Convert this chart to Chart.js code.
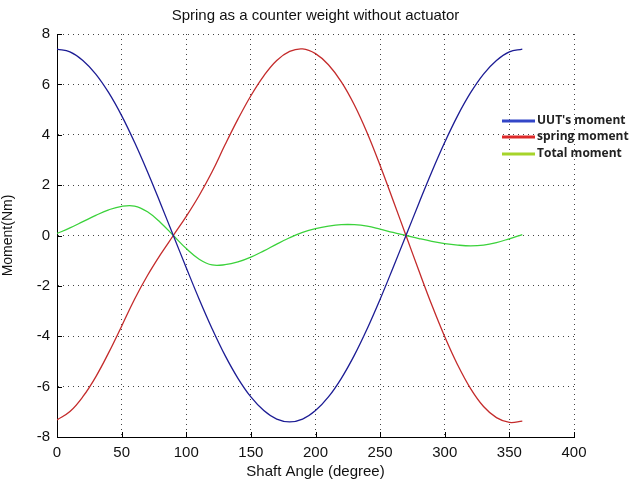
<!DOCTYPE html>
<html>
<head>
<meta charset="utf-8">
<script src="https://cdn.jsdelivr.net/npm/chart.js@4.4.1/dist/chart.umd.min.js"></script>
<style>
  html, body { margin: 0; padding: 0; background: #fff; }
  #wrap { width: 641px; height: 483px; }
</style>
</head>
<body>
<div id="wrap"><canvas id="momentChart" width="641" height="483"></canvas></div>
<script>
// shaft angle (deg) and moments
const angles = [0, 10, 20, 30, 40, 50, 60, 70, 80, 90, 100, 110, 120, 130, 140, 150, 160, 170, 180,
  190, 200, 210, 220, 230, 240, 250, 260, 270, 280, 290, 300, 310, 320, 330, 340, 350, 360];
const uutMoment = [7.40, 7.29, 6.95, 6.41, 5.67, 4.76, 3.70, 2.53, 1.28, 0.00, -1.28, -2.53, -3.70, -4.76, -5.67, -6.41, -6.95, -7.29, -7.40,
  -7.29, -6.95, -6.41, -5.67, -4.76, -3.70, -2.53, -1.28, 0.00, 1.28, 2.53, 3.70, 4.76, 5.67, 6.41, 6.95, 7.29, 7.40];
const springMoment = [-7.32, -6.99, -6.40, -5.61, -4.65, -3.60, -2.53, -1.59, -0.76, 0.00, 0.76, 1.59, 2.53, 3.60, 4.62, 5.55, 6.34, 6.95, 7.31,
  7.41, 7.22, 6.78, 6.10, 5.19, 4.07, 2.78, 1.40, 0.00, -1.40, -2.76, -4.02, -5.14, -6.08, -6.79, -7.23, -7.42, -7.37];
const totalMoment = [0.08, 0.30, 0.55, 0.80, 1.02, 1.16, 1.17, 0.94, 0.52, 0.00, -0.52, -0.94, -1.17, -1.16, -1.05, -0.86, -0.61, -0.34, -0.09,
  0.12, 0.27, 0.37, 0.43, 0.43, 0.37, 0.25, 0.12, 0.00, -0.12, -0.23, -0.32, -0.38, -0.41, -0.38, -0.28, -0.13, 0.03];
const seriesNames = ["UUT's moment", 'spring moment', 'Total moment'];

const lineColors = ['#1c1c94', '#c42b2b', '#3bd23b'];
const legendColors = ['#3346c8', '#dd2a2a', '#a6d42a'];
const FONT = '"Liberation Sans", Arial, sans-serif';
const NARROW = '"Liberation Sans Narrow", "Liberation Sans", sans-serif';

const toPoints = vals => angles.map((a, i) => ({ x: a, y: vals[i] }));

// title centred on the plot area, like matlab does
const titlePlugin = {
  id: 'plotTitle',
  afterDraw(chart) {
    const { ctx, chartArea } = chart;
    ctx.save();
    ctx.font = '15px ' + FONT;
    ctx.fillStyle = '#111';
    ctx.textAlign = 'center';
    ctx.textBaseline = 'middle';
    ctx.fillText('Spring as a counter weight without actuator', (chartArea.left + chartArea.right) / 2, 16);
    ctx.restore();
  }
};

// inward ticks on bottom and left axes
const innerTicks = {
  id: 'innerTicks',
  afterDraw(chart) {
    const { ctx, chartArea, scales } = chart;
    ctx.save();
    ctx.strokeStyle = '#000';
    ctx.lineWidth = 1;
    ctx.beginPath();
    scales.x.ticks.forEach(t => {
      const px = Math.round(scales.x.getPixelForValue(t.value)) + 0.5;
      ctx.moveTo(px, chartArea.bottom);
      ctx.lineTo(px, chartArea.bottom - 5);
    });
    scales.y.ticks.forEach(t => {
      const py = Math.round(scales.y.getPixelForValue(t.value)) + 0.5;
      ctx.moveTo(chartArea.left, py);
      ctx.lineTo(chartArea.left + 5, py);
    });
    ctx.stroke();
    ctx.restore();
  }
};

// pasted-looking legend sitting over the right edge of the plot
const floatLegend = {
  id: 'floatLegend',
  afterDraw(chart) {
    const { ctx } = chart;
    const rows = [121, 137, 154];
    ctx.save();
    ctx.font = 'bold 12px "Open Sans", sans-serif';
    ctx.textBaseline = 'middle';
    ctx.textAlign = 'left';
    chart.data.datasets.forEach((ds, i) => {
      ctx.strokeStyle = legendColors[i];
      ctx.lineWidth = 3;
      ctx.beginPath();
      ctx.moveTo(502, rows[i]);
      ctx.lineTo(535, rows[i]);
      ctx.stroke();
      ctx.fillStyle = '#222';
      ctx.fillText(ds.label, 537, rows[i]);
    });
    ctx.restore();
  }
};

new Chart(document.getElementById('momentChart'), {
  type: 'line',
  data: {
    datasets: [
      { label: seriesNames[0], data: toPoints(uutMoment), borderColor: lineColors[0] },
      { label: seriesNames[1], data: toPoints(springMoment), borderColor: lineColors[1] },
      { label: seriesNames[2], data: toPoints(totalMoment), borderColor: lineColors[2] }
    ]
  },
  options: {
    responsive: false,
    animation: false,
    layout: { padding: { top: 34, right: 67, left: 0, bottom: 0 } },
    elements: {
      point: { radius: 0 },
      line: { borderWidth: 1.3, tension: 0.4, fill: false }
    },
    plugins: {
      legend: { display: false },
      title: { display: false },
      tooltip: { enabled: false }
    },
    scales: {
      x: {
        type: 'linear',
        min: 0,
        max: 400,
        ticks: { stepSize: 50, color: '#111', font: { family: NARROW, size: 15 }, padding: 7, maxRotation: 0 },
        grid: { color: '#444', drawTicks: false, lineWidth: 1 },
        border: { display: true, color: '#000', width: 1, dash: [1, 4] },
        title: { display: true, text: 'Shaft Angle (degree)', color: '#111', font: { family: NARROW, size: 15 }, padding: { top: 0, bottom: 2 } },
        afterFit(scale) { scale.height = 46; }
      },
      y: {
        min: -8,
        max: 8,
        ticks: { stepSize: 2, color: '#111', font: { family: NARROW, size: 15 }, padding: 7 },
        grid: { color: '#444', drawTicks: false, lineWidth: 1 },
        border: { display: true, color: '#000', width: 1, dash: [1, 4] },
        title: { display: true, text: 'Moment(Nm)', color: '#111', font: { family: FONT, size: 14 }, padding: { top: 0, bottom: 4 } },
        afterFit(scale) { scale.width = 57; }
      }
    }
  },
  plugins: [titlePlugin, innerTicks, floatLegend]
});
</script>
</body>
</html>
